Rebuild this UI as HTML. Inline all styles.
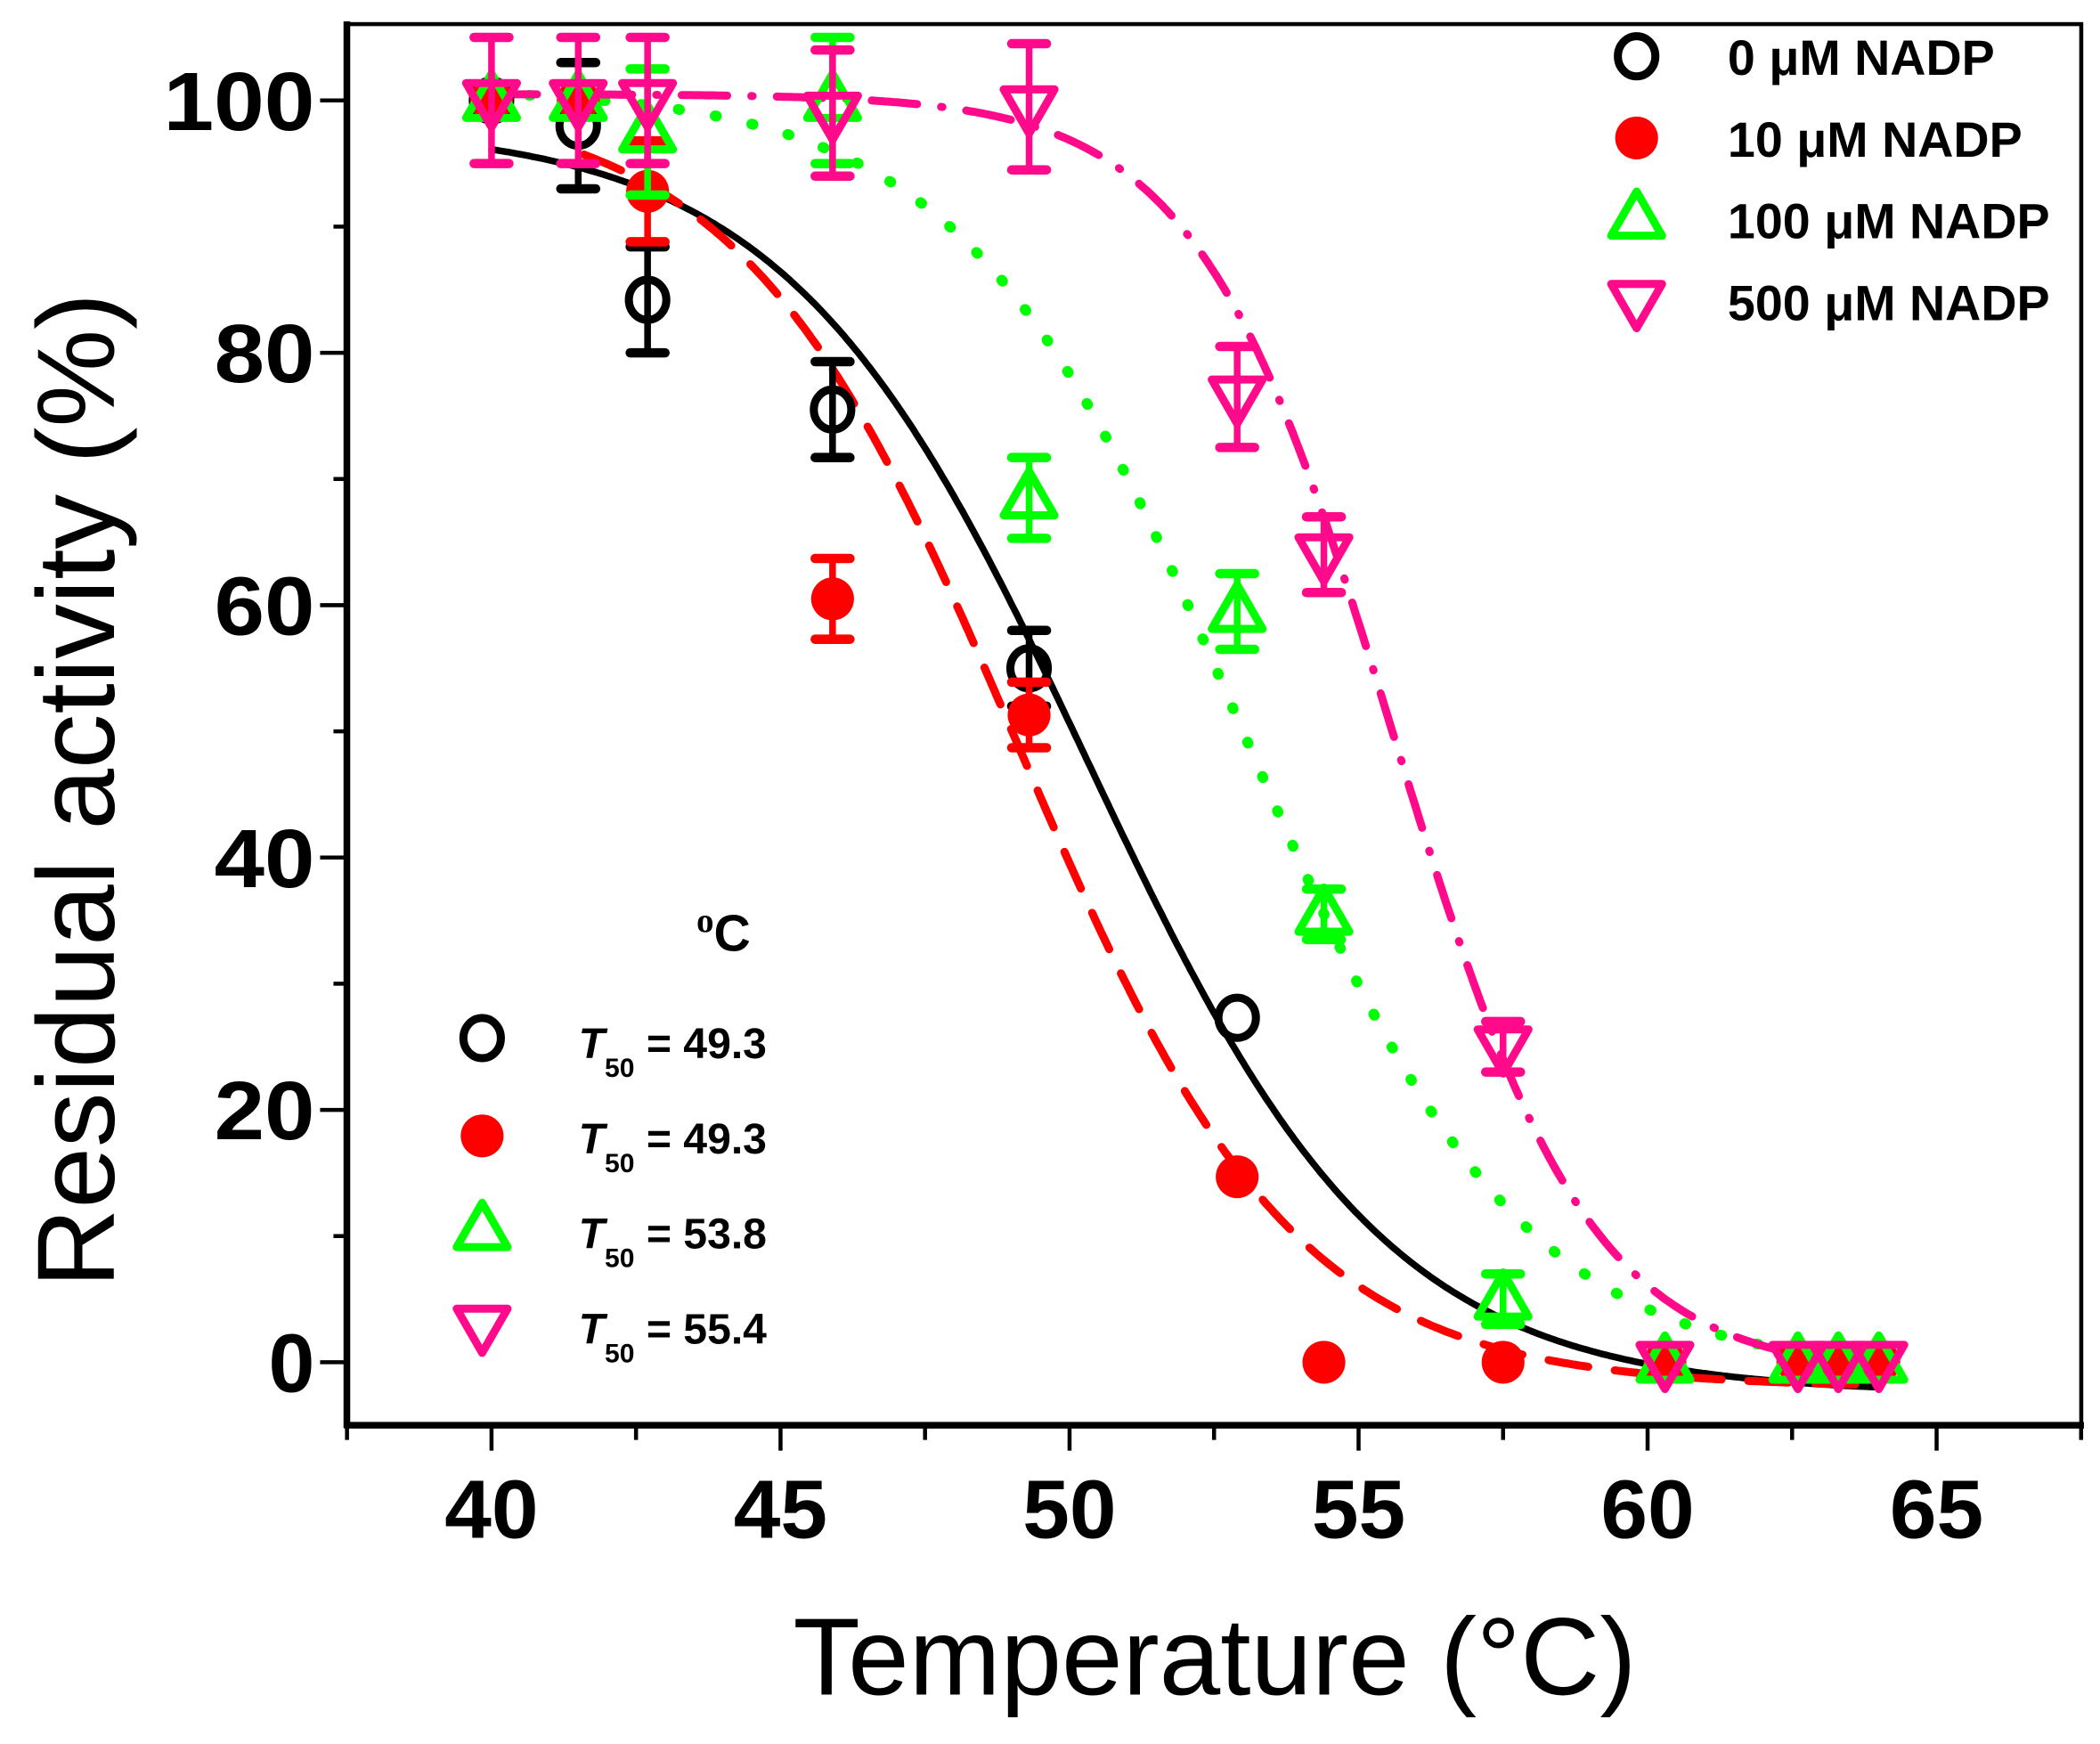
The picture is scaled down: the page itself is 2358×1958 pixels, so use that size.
<!DOCTYPE html>
<html><head><meta charset="utf-8"><style>
html,body{margin:0;padding:0;background:#fff;}
svg{display:block;}
text{font-family:"Liberation Sans",Arial,sans-serif;}
</style></head><body>
<svg id="s" width="2358" height="1958" viewBox="0 0 1568 1302" preserveAspectRatio="none" xmlns="http://www.w3.org/2000/svg">
<rect width="1568" height="1302" fill="#fff"/>
<g id="curves" fill="none" stroke-linecap="round"></g>
<g id="pts"></g>
<rect x="259" y="18" width="1295" height="1046" fill="none" stroke="#000" stroke-width="3"/>
<line x1="257" y1="1064" x2="1556" y2="1064" stroke="#000" stroke-width="5"/>
<line x1="259" y1="16" x2="259" y2="1066" stroke="#000" stroke-width="5"/>
<g id="ticks" stroke="#000" stroke-width="3"></g>
<g font-weight="bold" font-size="62" text-anchor="middle" id="xl"></g>
<g font-weight="bold" font-size="62" text-anchor="end" id="yl"></g>
<text x="907" y="1265" font-size="82" text-anchor="middle">Temperature (°C)</text>
<text transform="translate(85,590) rotate(-90)" font-size="82" text-anchor="middle">Residual activity (%)</text>
<g font-weight="bold" font-size="37">
<text x="1290" y="56">0 μM NADP</text>
<text x="1290" y="117">10 μM NADP</text>
<text x="1290" y="178">100 μM NADP</text>
<text x="1290" y="239">500 μM NADP</text>
</g>
<g id="leg"></g>
<g font-weight="bold" font-size="32">
<text x="520" y="710" font-size="38"><tspan font-family="Liberation Serif" font-size="26" dy="-14">o</tspan><tspan dy="14">C</tspan></text>
<text x="432" y="790"><tspan font-style="italic">T</tspan><tspan font-size="20" dy="14">50</tspan><tspan dy="-14"> = 49.3</tspan></text>
<text x="432" y="861"><tspan font-style="italic">T</tspan><tspan font-size="20" dy="14">50</tspan><tspan dy="-14"> = 49.3</tspan></text>
<text x="432" y="932"><tspan font-style="italic">T</tspan><tspan font-size="20" dy="14">50</tspan><tspan dy="-14"> = 53.8</tspan></text>
<text x="432" y="1003"><tspan font-style="italic">T</tspan><tspan font-size="20" dy="14">50</tspan><tspan dy="-14"> = 55.4</tspan></text>
</g>
</svg>
<script>
var NS="http://www.w3.org/2000/svg";
function X(v){return 367+(v-40)*43.16;}
function Y(v){return 1017-v*9.42;}
function el(p,t,a){var e=document.createElementNS(NS,t);for(var k in a)e.setAttribute(k,a[k]);p.appendChild(e);return e;}
var tk=document.getElementById('ticks'),xl=document.getElementById('xl'),yl=document.getElementById('yl');
for(var v=37.5;v<=67.6;v+=2.5){var maj=(v%5===0);el(tk,'line',{x1:X(v),y1:1064,x2:X(v),y2:1064+(maj?19:11)});
 if(maj&&v>=40&&v<=65){var t=el(xl,'text',{x:X(v),y:1148,textLength:70,lengthAdjust:'spacingAndGlyphs'});t.textContent=v;}}
for(var v=0;v<=100;v+=10){var maj=(v%20===0);el(tk,'line',{x1:259,y1:Y(v),x2:259-(maj?20:10),y2:Y(v)});
 if(maj){var s=String(v);var a={x:235,y:Y(v)+22};if(s.length>1){a.textLength=s.length==3?113:75;a.lengthAdjust='spacingAndGlyphs';}
 var t=el(yl,'text',a);t.textContent=s;}}
function bz(A1,A2,x0,dx){return function(x){return A2+(A1-A2)/(1+Math.exp((x-x0)/dx));};}
var cv=document.getElementById('curves');
function curve(f,a,b,col,dash,w){var d='';for(var x=a;x<=b+1e-9;x+=0.05){d+=(d?'L':'M')+X(x).toFixed(1)+','+Y(f(x)).toFixed(1);}
 el(cv,'path',{d:d,stroke:col,'stroke-width':w||5,'stroke-dasharray':dash||''});}
curve(bz(98,-2.5,50.3,2.6),40,64,'#000');
curve(bz(100,-2,49.1,2.4),41.6,64,'#ff0000','30 20',6);
curve(bz(101,-1,53.0,2.4),40,64,'#00ff00','1 27',8);
curve(bz(100.5,-1,55.6,1.7),40,64,'#ff0a8a','34 18 1 18',6);
var P=document.getElementById('pts');
function err(g,x,y,e,c){if(!e)return;el(g,'line',{x1:X(x),y1:Y(y+e),x2:X(x),y2:Y(y-e),stroke:c,'stroke-width':5});
 el(g,'line',{x1:X(x)-13,y1:Y(y+e),x2:X(x)+13,y2:Y(y+e),stroke:c,'stroke-width':7,'stroke-linecap':'round'});
 el(g,'line',{x1:X(x)-13,y1:Y(y-e),x2:X(x)+13,y2:Y(y-e),stroke:c,'stroke-width':7,'stroke-linecap':'round'});}
function mk(g,type,cx,cy){
 if(type==0)el(g,'ellipse',{cx:cx,cy:cy,rx:14,ry:15,fill:'none',stroke:'#000','stroke-width':6});
 if(type==1)el(g,'circle',{cx:cx,cy:cy,r:16,fill:'#ff0000'});
 if(type==2)el(g,'path',{d:'M'+cx+','+(cy-20)+'L'+(cx+19)+','+(cy+13)+'L'+(cx-19)+','+(cy+13)+'Z',fill:'none',stroke:'#00ff00','stroke-width':6,'stroke-linejoin':'round'});
 if(type==3)el(g,'path',{d:'M'+cx+','+(cy+20)+'L'+(cx+19)+','+(cy-13)+'L'+(cx-19)+','+(cy-13)+'Z',fill:'none',stroke:'#ff0a8a','stroke-width':6,'stroke-linejoin':'round'});}
var cols=['#000','#ff0000','#00ff00','#ff0a8a'];
var data=[
[[40,100,0],[41.5,98,5],[42.7,84.2,4.2],[45.9,75.5,3.8],[49.3,55,3],[52.9,27.3,0]],
[[40,100,0],[41.5,100,0],[42.7,92.8,4],[45.9,60.5,3.2],[49.3,51.3,2.6],[52.9,14.7,0],[54.4,0,0],[57.5,0,0],[60.3,0,0],[62.6,0,0],[63.3,0,0],[64,0,0]],
[[40,100,0],[41.5,100,0],[42.7,97.5,5],[45.9,100,5],[49.3,68.5,3.2],[52.9,59.5,3],[54.4,35.5,2],[57.5,5,2],[60.3,0,0],[62.6,0,0],[63.3,0,0],[64,0,0]],
[[40,100,5],[41.5,100,5],[42.7,100,5],[45.9,99,5],[49.3,99.5,5],[52.9,76.5,4],[54.4,64,3],[57.5,25,2],[60.3,0,0],[62.6,0,0],[63.3,0,0],[64,0,0]]];
for(var s=0;s<4;s++){var g=el(P,'g',{});data[s].forEach(function(p){err(g,p[0],p[1],p[2],cols[s]);mk(g,s,X(p[0]),Y(p[1]));});}
var L=document.getElementById('leg');
[42,103,163,225].forEach(function(y,i){mk(L,i,1222,y);});
[775,848,918,990].forEach(function(y,i){mk(L,i,360,y);});
</script>
</body></html>
